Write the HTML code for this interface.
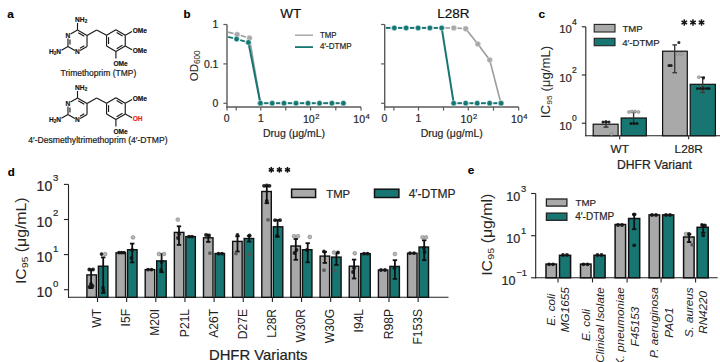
<!DOCTYPE html>
<html><head><meta charset="utf-8"><style>
html,body{margin:0;padding:0;background:#fff;width:720px;height:362px;overflow:hidden}
svg{display:block}
text{font-family:"Liberation Sans", sans-serif}
</style></head><body>
<svg width="720" height="362" viewBox="0 0 720 362">
<rect width="720" height="362" fill="#fff"/>
<text x="7.20" y="17.70" font-size="11.8" text-anchor="start" font-weight="bold" font-style="normal" fill="#000" stroke="#000" stroke-width="0.15" >a</text>
<line x1="77.50" y1="29.90" x2="87.03" y2="35.40" stroke="#1a1a1a" stroke-width="1.15" />
<line x1="78.23" y1="32.63" x2="84.29" y2="36.13" stroke="#1a1a1a" stroke-width="1.15" />
<line x1="87.03" y1="35.40" x2="87.03" y2="46.40" stroke="#1a1a1a" stroke-width="1.15" />
<line x1="87.03" y1="46.40" x2="80.10" y2="50.40" stroke="#1a1a1a" stroke-width="1.15" />
<line x1="84.29" y1="45.67" x2="79.96" y2="48.17" stroke="#1a1a1a" stroke-width="1.15" />
<line x1="74.90" y1="50.40" x2="67.97" y2="46.40" stroke="#1a1a1a" stroke-width="1.15" />
<line x1="67.97" y1="46.40" x2="67.97" y2="38.40" stroke="#1a1a1a" stroke-width="1.15" />
<line x1="69.97" y1="44.40" x2="69.97" y2="39.40" stroke="#1a1a1a" stroke-width="1.15" />
<line x1="70.57" y1="33.90" x2="77.50" y2="29.90" stroke="#1a1a1a" stroke-width="1.15" />
<line x1="77.50" y1="22.90" x2="77.50" y2="29.90" stroke="#1a1a1a" stroke-width="1.15" />
<line x1="67.97" y1="46.40" x2="61.44" y2="50.19" stroke="#1a1a1a" stroke-width="1.15" />
<line x1="87.03" y1="35.40" x2="96.63" y2="29.90" stroke="#1a1a1a" stroke-width="1.15" />
<line x1="96.63" y1="29.90" x2="106.55" y2="35.20" stroke="#1a1a1a" stroke-width="1.15" />
<line x1="106.55" y1="35.20" x2="115.90" y2="29.80" stroke="#1a1a1a" stroke-width="1.15" />
<line x1="115.90" y1="29.80" x2="125.25" y2="35.20" stroke="#1a1a1a" stroke-width="1.15" />
<line x1="116.63" y1="32.53" x2="122.52" y2="35.93" stroke="#1a1a1a" stroke-width="1.15" />
<line x1="125.25" y1="35.20" x2="125.25" y2="46.00" stroke="#1a1a1a" stroke-width="1.15" />
<line x1="125.25" y1="46.00" x2="115.90" y2="51.40" stroke="#1a1a1a" stroke-width="1.15" />
<line x1="122.52" y1="45.27" x2="116.63" y2="48.67" stroke="#1a1a1a" stroke-width="1.15" />
<line x1="115.90" y1="51.40" x2="106.55" y2="46.00" stroke="#1a1a1a" stroke-width="1.15" />
<line x1="106.55" y1="46.00" x2="106.55" y2="35.20" stroke="#1a1a1a" stroke-width="1.15" />
<line x1="108.55" y1="44.00" x2="108.55" y2="37.20" stroke="#1a1a1a" stroke-width="1.15" />
<line x1="125.25" y1="35.20" x2="132.05" y2="31.40" stroke="#1a1a1a" stroke-width="1.15" />
<line x1="125.25" y1="46.00" x2="132.05" y2="49.80" stroke="#1a1a1a" stroke-width="1.15" />
<line x1="115.90" y1="51.40" x2="115.90" y2="58.60" stroke="#1a1a1a" stroke-width="1.15" />
<text x="75.10" y="22.10" font-size="6.6" text-anchor="start" font-weight="bold" font-style="normal" fill="#111" stroke="#111" stroke-width="0.15" >NH<tspan font-size="4.6" dy="1.2">2</tspan></text>
<text x="67.97" y="37.80" font-size="6.6" text-anchor="middle" font-weight="bold" font-style="normal" fill="#111" stroke="#111" stroke-width="0.15" >N</text>
<text x="77.50" y="54.30" font-size="6.6" text-anchor="middle" font-weight="bold" font-style="normal" fill="#111" stroke="#111" stroke-width="0.15" >N</text>
<text x="61.07" y="53.80" font-size="6.6" text-anchor="end" font-weight="bold" font-style="normal" fill="#111" stroke="#111" stroke-width="0.15" >H<tspan font-size="4.6" dy="1.2">2</tspan><tspan dy="-1.2">N</tspan></text>
<text x="132.65" y="33.00" font-size="6.6" text-anchor="start" font-weight="bold" font-style="normal" fill="#111" stroke="#111" stroke-width="0.15" >OMe</text>
<text x="132.65" y="53.40" font-size="6.6" text-anchor="start" font-weight="bold" font-style="normal" fill="#111" stroke="#111" stroke-width="0.15" >OMe</text>
<text x="113.40" y="65.90" font-size="6.6" text-anchor="start" font-weight="bold" font-style="normal" fill="#111" stroke="#111" stroke-width="0.15" >OMe</text>
<text x="98.40" y="75.60" font-size="8.5" text-anchor="middle" font-weight="normal" font-style="normal" fill="#1a1a1a" stroke="#1a1a1a" stroke-width="0.2" >Trimethoprim (TMP)</text>
<line x1="77.50" y1="97.90" x2="87.03" y2="103.40" stroke="#1a1a1a" stroke-width="1.15" />
<line x1="78.23" y1="100.63" x2="84.29" y2="104.13" stroke="#1a1a1a" stroke-width="1.15" />
<line x1="87.03" y1="103.40" x2="87.03" y2="114.40" stroke="#1a1a1a" stroke-width="1.15" />
<line x1="87.03" y1="114.40" x2="80.10" y2="118.40" stroke="#1a1a1a" stroke-width="1.15" />
<line x1="84.29" y1="113.67" x2="79.96" y2="116.17" stroke="#1a1a1a" stroke-width="1.15" />
<line x1="74.90" y1="118.40" x2="67.97" y2="114.40" stroke="#1a1a1a" stroke-width="1.15" />
<line x1="67.97" y1="114.40" x2="67.97" y2="106.40" stroke="#1a1a1a" stroke-width="1.15" />
<line x1="69.97" y1="112.40" x2="69.97" y2="107.40" stroke="#1a1a1a" stroke-width="1.15" />
<line x1="70.57" y1="101.90" x2="77.50" y2="97.90" stroke="#1a1a1a" stroke-width="1.15" />
<line x1="77.50" y1="90.90" x2="77.50" y2="97.90" stroke="#1a1a1a" stroke-width="1.15" />
<line x1="67.97" y1="114.40" x2="61.44" y2="118.19" stroke="#1a1a1a" stroke-width="1.15" />
<line x1="87.03" y1="103.40" x2="96.63" y2="97.90" stroke="#1a1a1a" stroke-width="1.15" />
<line x1="96.63" y1="97.90" x2="106.55" y2="103.20" stroke="#1a1a1a" stroke-width="1.15" />
<line x1="106.55" y1="103.20" x2="115.90" y2="97.80" stroke="#1a1a1a" stroke-width="1.15" />
<line x1="115.90" y1="97.80" x2="125.25" y2="103.20" stroke="#1a1a1a" stroke-width="1.15" />
<line x1="116.63" y1="100.53" x2="122.52" y2="103.93" stroke="#1a1a1a" stroke-width="1.15" />
<line x1="125.25" y1="103.20" x2="125.25" y2="114.00" stroke="#1a1a1a" stroke-width="1.15" />
<line x1="125.25" y1="114.00" x2="115.90" y2="119.40" stroke="#1a1a1a" stroke-width="1.15" />
<line x1="122.52" y1="113.27" x2="116.63" y2="116.67" stroke="#1a1a1a" stroke-width="1.15" />
<line x1="115.90" y1="119.40" x2="106.55" y2="114.00" stroke="#1a1a1a" stroke-width="1.15" />
<line x1="106.55" y1="114.00" x2="106.55" y2="103.20" stroke="#1a1a1a" stroke-width="1.15" />
<line x1="108.55" y1="112.00" x2="108.55" y2="105.20" stroke="#1a1a1a" stroke-width="1.15" />
<line x1="125.25" y1="103.20" x2="132.05" y2="99.40" stroke="#1a1a1a" stroke-width="1.15" />
<line x1="125.25" y1="114.00" x2="132.05" y2="117.80" stroke="#1a1a1a" stroke-width="1.15" />
<line x1="115.90" y1="119.40" x2="115.90" y2="126.60" stroke="#1a1a1a" stroke-width="1.15" />
<text x="75.10" y="90.10" font-size="6.6" text-anchor="start" font-weight="bold" font-style="normal" fill="#111" stroke="#111" stroke-width="0.15" >NH<tspan font-size="4.6" dy="1.2">2</tspan></text>
<text x="67.97" y="105.80" font-size="6.6" text-anchor="middle" font-weight="bold" font-style="normal" fill="#111" stroke="#111" stroke-width="0.15" >N</text>
<text x="77.50" y="122.30" font-size="6.6" text-anchor="middle" font-weight="bold" font-style="normal" fill="#111" stroke="#111" stroke-width="0.15" >N</text>
<text x="61.07" y="121.80" font-size="6.6" text-anchor="end" font-weight="bold" font-style="normal" fill="#111" stroke="#111" stroke-width="0.15" >H<tspan font-size="4.6" dy="1.2">2</tspan><tspan dy="-1.2">N</tspan></text>
<text x="132.65" y="101.00" font-size="6.6" text-anchor="start" font-weight="bold" font-style="normal" fill="#111" stroke="#111" stroke-width="0.15" >OMe</text>
<text x="132.65" y="121.40" font-size="6.6" text-anchor="start" font-weight="bold" font-style="normal" fill="#e8231e" stroke="#e8231e" stroke-width="0.15" >OH</text>
<text x="113.40" y="133.90" font-size="6.6" text-anchor="start" font-weight="bold" font-style="normal" fill="#111" stroke="#111" stroke-width="0.15" >OMe</text>
<text x="97.90" y="143.30" font-size="8.6" text-anchor="middle" font-weight="normal" font-style="normal" fill="#1a1a1a" stroke="#1a1a1a" stroke-width="0.2" >4′-Desmethyltrimethoprim (4′-DTMP)</text>
<text x="183.60" y="18.00" font-size="11.5" text-anchor="start" font-weight="bold" font-style="normal" fill="#000" stroke="#000" stroke-width="0.15" >b</text>
<line x1="227.00" y1="24.50" x2="227.00" y2="107.60" stroke="#5a5a5a" stroke-width="1.4" />
<line x1="226.40" y1="107.00" x2="361.00" y2="107.00" stroke="#5a5a5a" stroke-width="1.4" />
<line x1="223.40" y1="24.50" x2="227.00" y2="24.50" stroke="#5a5a5a" stroke-width="1.2" />
<text x="218.40" y="28.20" font-size="10.4" text-anchor="end" font-weight="normal" font-style="normal" fill="#262626" stroke="#262626" stroke-width="0.2" >1</text>
<line x1="223.40" y1="63.90" x2="227.00" y2="63.90" stroke="#5a5a5a" stroke-width="1.2" />
<text x="218.40" y="67.60" font-size="10.4" text-anchor="end" font-weight="normal" font-style="normal" fill="#262626" stroke="#262626" stroke-width="0.2" >0.1</text>
<line x1="223.40" y1="103.30" x2="227.00" y2="103.30" stroke="#5a5a5a" stroke-width="1.2" />
<text x="218.40" y="107.00" font-size="10.4" text-anchor="end" font-weight="normal" font-style="normal" fill="#262626" stroke="#262626" stroke-width="0.2" >0</text>
<line x1="227.00" y1="107.00" x2="227.00" y2="110.60" stroke="#5a5a5a" stroke-width="1.2" />
<line x1="236.20" y1="107.00" x2="236.20" y2="110.60" stroke="#5a5a5a" stroke-width="1.2" />
<line x1="260.80" y1="107.00" x2="260.80" y2="110.60" stroke="#5a5a5a" stroke-width="1.2" />
<line x1="285.80" y1="107.00" x2="285.80" y2="110.60" stroke="#5a5a5a" stroke-width="1.2" />
<line x1="310.60" y1="107.00" x2="310.60" y2="110.60" stroke="#5a5a5a" stroke-width="1.2" />
<line x1="335.80" y1="107.00" x2="335.80" y2="110.60" stroke="#5a5a5a" stroke-width="1.2" />
<line x1="361.00" y1="107.00" x2="361.00" y2="110.60" stroke="#5a5a5a" stroke-width="1.2" />
<text x="226.70" y="121.90" font-size="10.4" text-anchor="middle" font-weight="normal" font-style="normal" fill="#262626" stroke="#262626" stroke-width="0.2" >0</text>
<text x="260.80" y="121.90" font-size="10.4" text-anchor="middle" font-weight="normal" font-style="normal" fill="#262626" stroke="#262626" stroke-width="0.2" >1</text>
<text x="308.80" y="122.50" font-size="10.6" text-anchor="middle" font-weight="normal" font-style="normal" fill="#262626" stroke="#262626" stroke-width="0.2" >10</text>
<text x="315.20" y="119.20" font-size="7.6" text-anchor="start" font-weight="normal" font-style="normal" fill="#262626" stroke="#262626" stroke-width="0.2" >2</text>
<text x="359.20" y="122.50" font-size="10.6" text-anchor="middle" font-weight="normal" font-style="normal" fill="#262626" stroke="#262626" stroke-width="0.2" >10</text>
<text x="365.60" y="119.20" font-size="7.6" text-anchor="start" font-weight="normal" font-style="normal" fill="#262626" stroke="#262626" stroke-width="0.2" >4</text>
<text x="294.00" y="136.60" font-size="10.5" text-anchor="middle" font-weight="normal" font-style="normal" fill="#262626" stroke="#262626" stroke-width="0.2" >Drug (μg/mL)</text>
<text x="290.80" y="17.60" font-size="13.5" text-anchor="middle" font-weight="normal" font-style="normal" fill="#111" stroke="#111" stroke-width="0.2" >WT</text>
<text transform="translate(198.2,65.8) rotate(-90)" font-size="11.5" text-anchor="middle" fill="#262626">OD<tspan font-size="8.2" dy="1.8">600</tspan></text>
<line x1="295.00" y1="35.20" x2="313.00" y2="35.20" stroke="#a9a9a9" stroke-width="1.5" />
<line x1="295.00" y1="47.10" x2="313.00" y2="47.10" stroke="#177672" stroke-width="1.8" />
<text x="320.00" y="38.00" font-size="8.4" text-anchor="start" font-weight="normal" font-style="normal" fill="#262626" stroke="#262626" stroke-width="0.2" textLength="16.6" lengthAdjust="spacingAndGlyphs">TMP</text>
<text x="320.00" y="49.20" font-size="8.4" text-anchor="start" font-weight="normal" font-style="normal" fill="#262626" stroke="#262626" stroke-width="0.2" textLength="31.6" lengthAdjust="spacingAndGlyphs">4′-DTMP</text>
<line x1="228.16" y1="32.11" x2="233.48" y2="33.53" stroke="#9c9c9c" stroke-width="1.6" />
<line x1="240.70" y1="35.55" x2="245.90" y2="37.05" stroke="#9c9c9c" stroke-width="1.6" />
<polyline points="249.50,38.10 260.40,103.20" fill="none" stroke="#9c9c9c" stroke-width="1.6"  stroke-linejoin="round"/>
<circle cx="237.10" cy="34.50" r="2.75" fill="#a9a9a9" stroke="#e8e8e8" stroke-width="0.4" opacity="1"/>
<circle cx="249.50" cy="38.10" r="2.75" fill="#a9a9a9" stroke="#e8e8e8" stroke-width="0.4" opacity="1"/>
<circle cx="260.40" cy="103.20" r="2.75" fill="#a9a9a9" stroke="#e8e8e8" stroke-width="0.4" opacity="1"/>
<line x1="228.16" y1="36.90" x2="232.97" y2="38.15" stroke="#177672" stroke-width="2.0" />
<line x1="240.21" y1="40.11" x2="244.79" y2="41.39" stroke="#177672" stroke-width="2.0" />
<polyline points="248.40,42.40 260.40,103.20" fill="none" stroke="#177672" stroke-width="2.0"  stroke-linejoin="round"/>
<line x1="264.15" y1="103.20" x2="268.45" y2="103.20" stroke="#177672" stroke-width="2.0" />
<line x1="275.95" y1="103.20" x2="280.25" y2="103.20" stroke="#177672" stroke-width="2.0" />
<line x1="287.75" y1="103.20" x2="292.25" y2="103.20" stroke="#177672" stroke-width="2.0" />
<line x1="299.75" y1="103.20" x2="304.25" y2="103.20" stroke="#177672" stroke-width="2.0" />
<line x1="311.75" y1="103.20" x2="315.75" y2="103.20" stroke="#177672" stroke-width="2.0" />
<line x1="323.25" y1="103.20" x2="328.15" y2="103.20" stroke="#177672" stroke-width="2.0" />
<line x1="335.65" y1="103.20" x2="339.65" y2="103.20" stroke="#177672" stroke-width="2.0" />
<circle cx="236.60" cy="39.10" r="2.75" fill="#177672" stroke="#d4f2ee" stroke-width="0.6" opacity="1"/>
<circle cx="248.40" cy="42.40" r="2.75" fill="#177672" stroke="#d4f2ee" stroke-width="0.6" opacity="1"/>
<circle cx="260.40" cy="103.20" r="2.75" fill="#177672" stroke="#d4f2ee" stroke-width="0.6" opacity="1"/>
<circle cx="272.20" cy="103.20" r="2.75" fill="#177672" stroke="#d4f2ee" stroke-width="0.6" opacity="1"/>
<circle cx="284.00" cy="103.20" r="2.75" fill="#177672" stroke="#d4f2ee" stroke-width="0.6" opacity="1"/>
<circle cx="296.00" cy="103.20" r="2.75" fill="#177672" stroke="#d4f2ee" stroke-width="0.6" opacity="1"/>
<circle cx="308.00" cy="103.20" r="2.75" fill="#177672" stroke="#d4f2ee" stroke-width="0.6" opacity="1"/>
<circle cx="319.50" cy="103.20" r="2.75" fill="#177672" stroke="#d4f2ee" stroke-width="0.6" opacity="1"/>
<circle cx="331.90" cy="103.20" r="2.75" fill="#177672" stroke="#d4f2ee" stroke-width="0.6" opacity="1"/>
<circle cx="343.40" cy="103.20" r="2.75" fill="#177672" stroke="#d4f2ee" stroke-width="0.6" opacity="1"/>
<line x1="384.70" y1="24.50" x2="384.70" y2="107.60" stroke="#5a5a5a" stroke-width="1.4" />
<line x1="384.10" y1="107.00" x2="518.70" y2="107.00" stroke="#5a5a5a" stroke-width="1.4" />
<line x1="381.10" y1="24.50" x2="384.70" y2="24.50" stroke="#5a5a5a" stroke-width="1.2" />
<line x1="381.10" y1="63.90" x2="384.70" y2="63.90" stroke="#5a5a5a" stroke-width="1.2" />
<line x1="381.10" y1="103.30" x2="384.70" y2="103.30" stroke="#5a5a5a" stroke-width="1.2" />
<line x1="384.70" y1="107.00" x2="384.70" y2="110.60" stroke="#5a5a5a" stroke-width="1.2" />
<line x1="393.90" y1="107.00" x2="393.90" y2="110.60" stroke="#5a5a5a" stroke-width="1.2" />
<line x1="418.50" y1="107.00" x2="418.50" y2="110.60" stroke="#5a5a5a" stroke-width="1.2" />
<line x1="443.50" y1="107.00" x2="443.50" y2="110.60" stroke="#5a5a5a" stroke-width="1.2" />
<line x1="468.30" y1="107.00" x2="468.30" y2="110.60" stroke="#5a5a5a" stroke-width="1.2" />
<line x1="493.50" y1="107.00" x2="493.50" y2="110.60" stroke="#5a5a5a" stroke-width="1.2" />
<line x1="518.70" y1="107.00" x2="518.70" y2="110.60" stroke="#5a5a5a" stroke-width="1.2" />
<text x="384.40" y="121.90" font-size="10.4" text-anchor="middle" font-weight="normal" font-style="normal" fill="#262626" stroke="#262626" stroke-width="0.2" >0</text>
<text x="418.50" y="121.90" font-size="10.4" text-anchor="middle" font-weight="normal" font-style="normal" fill="#262626" stroke="#262626" stroke-width="0.2" >1</text>
<text x="466.50" y="122.50" font-size="10.6" text-anchor="middle" font-weight="normal" font-style="normal" fill="#262626" stroke="#262626" stroke-width="0.2" >10</text>
<text x="472.90" y="119.20" font-size="7.6" text-anchor="start" font-weight="normal" font-style="normal" fill="#262626" stroke="#262626" stroke-width="0.2" >2</text>
<text x="516.90" y="122.50" font-size="10.6" text-anchor="middle" font-weight="normal" font-style="normal" fill="#262626" stroke="#262626" stroke-width="0.2" >10</text>
<text x="523.30" y="119.20" font-size="7.6" text-anchor="start" font-weight="normal" font-style="normal" fill="#262626" stroke="#262626" stroke-width="0.2" >4</text>
<text x="451.70" y="136.60" font-size="10.5" text-anchor="middle" font-weight="normal" font-style="normal" fill="#262626" stroke="#262626" stroke-width="0.2" >Drug (μg/mL)</text>
<text x="453.30" y="17.60" font-size="13.5" text-anchor="middle" font-weight="normal" font-style="normal" fill="#111" stroke="#111" stroke-width="0.2" >L28R</text>
<line x1="445.35" y1="27.90" x2="450.05" y2="27.90" stroke="#9c9c9c" stroke-width="1.6" />
<line x1="457.54" y1="28.15" x2="461.96" y2="28.45" stroke="#9c9c9c" stroke-width="1.6" />
<polyline points="465.70,28.70 477.80,44.10" fill="none" stroke="#9c9c9c" stroke-width="1.6"  stroke-linejoin="round"/>
<polyline points="477.80,44.10 489.70,59.90" fill="none" stroke="#9c9c9c" stroke-width="1.6"  stroke-linejoin="round"/>
<polyline points="489.70,59.90 500.90,103.20" fill="none" stroke="#9c9c9c" stroke-width="1.6"  stroke-linejoin="round"/>
<circle cx="453.80" cy="27.90" r="2.75" fill="#a9a9a9" stroke="#e8e8e8" stroke-width="0.4" opacity="1"/>
<circle cx="465.70" cy="28.70" r="2.75" fill="#a9a9a9" stroke="#e8e8e8" stroke-width="0.4" opacity="1"/>
<circle cx="477.80" cy="44.10" r="2.75" fill="#a9a9a9" stroke="#e8e8e8" stroke-width="0.4" opacity="1"/>
<circle cx="489.70" cy="59.90" r="2.75" fill="#a9a9a9" stroke="#e8e8e8" stroke-width="0.4" opacity="1"/>
<circle cx="500.90" cy="103.20" r="2.75" fill="#a9a9a9" stroke="#e8e8e8" stroke-width="0.4" opacity="1"/>
<line x1="385.90" y1="27.90" x2="390.55" y2="27.90" stroke="#177672" stroke-width="2.0" />
<line x1="398.05" y1="27.90" x2="402.35" y2="27.90" stroke="#177672" stroke-width="2.0" />
<line x1="409.85" y1="27.90" x2="414.35" y2="27.90" stroke="#177672" stroke-width="2.0" />
<line x1="421.85" y1="27.90" x2="426.15" y2="27.90" stroke="#177672" stroke-width="2.0" />
<line x1="433.65" y1="27.90" x2="437.95" y2="27.90" stroke="#177672" stroke-width="2.0" />
<polyline points="441.70,27.90 453.70,103.20" fill="none" stroke="#177672" stroke-width="2.0"  stroke-linejoin="round"/>
<line x1="457.45" y1="103.20" x2="461.95" y2="103.20" stroke="#177672" stroke-width="2.0" />
<line x1="469.45" y1="103.20" x2="473.45" y2="103.20" stroke="#177672" stroke-width="2.0" />
<line x1="480.95" y1="103.20" x2="485.85" y2="103.20" stroke="#177672" stroke-width="2.0" />
<line x1="493.35" y1="103.20" x2="497.35" y2="103.20" stroke="#177672" stroke-width="2.0" />
<circle cx="394.30" cy="27.90" r="2.75" fill="#177672" stroke="#d4f2ee" stroke-width="0.6" opacity="1"/>
<circle cx="406.10" cy="27.90" r="2.75" fill="#177672" stroke="#d4f2ee" stroke-width="0.6" opacity="1"/>
<circle cx="418.10" cy="27.90" r="2.75" fill="#177672" stroke="#d4f2ee" stroke-width="0.6" opacity="1"/>
<circle cx="429.90" cy="27.90" r="2.75" fill="#177672" stroke="#d4f2ee" stroke-width="0.6" opacity="1"/>
<circle cx="441.70" cy="27.90" r="2.75" fill="#177672" stroke="#d4f2ee" stroke-width="0.6" opacity="1"/>
<circle cx="453.70" cy="103.20" r="2.75" fill="#177672" stroke="#d4f2ee" stroke-width="0.6" opacity="1"/>
<circle cx="465.70" cy="103.20" r="2.75" fill="#177672" stroke="#d4f2ee" stroke-width="0.6" opacity="1"/>
<circle cx="477.20" cy="103.20" r="2.75" fill="#177672" stroke="#d4f2ee" stroke-width="0.6" opacity="1"/>
<circle cx="489.60" cy="103.20" r="2.75" fill="#177672" stroke="#d4f2ee" stroke-width="0.6" opacity="1"/>
<circle cx="501.10" cy="103.20" r="2.75" fill="#177672" stroke="#d4f2ee" stroke-width="0.6" opacity="1"/>
<text x="538.60" y="18.00" font-size="11.8" text-anchor="start" font-weight="bold" font-style="normal" fill="#000" stroke="#000" stroke-width="0.15" >c</text>
<line x1="585.80" y1="26.80" x2="585.80" y2="136.30" stroke="#222" stroke-width="1.1" />
<line x1="585.30" y1="135.80" x2="720.00" y2="135.80" stroke="#222" stroke-width="1.1" />
<line x1="581.80" y1="26.80" x2="585.80" y2="26.80" stroke="#222" stroke-width="1.1" />
<text x="571.80" y="33.30" font-size="11.4" text-anchor="end" font-weight="normal" font-style="normal" fill="#262626" stroke="#262626" stroke-width="0.2" >10</text>
<text x="572.10" y="25.00" font-size="8.6" text-anchor="start" font-weight="normal" font-style="normal" fill="#262626" stroke="#262626" stroke-width="0.2" >4</text>
<line x1="581.80" y1="75.00" x2="585.80" y2="75.00" stroke="#222" stroke-width="1.1" />
<text x="571.80" y="81.50" font-size="11.4" text-anchor="end" font-weight="normal" font-style="normal" fill="#262626" stroke="#262626" stroke-width="0.2" >10</text>
<text x="572.10" y="73.20" font-size="8.6" text-anchor="start" font-weight="normal" font-style="normal" fill="#262626" stroke="#262626" stroke-width="0.2" >2</text>
<line x1="581.80" y1="123.20" x2="585.80" y2="123.20" stroke="#222" stroke-width="1.1" />
<text x="571.80" y="129.70" font-size="11.4" text-anchor="end" font-weight="normal" font-style="normal" fill="#262626" stroke="#262626" stroke-width="0.2" >10</text>
<text x="572.10" y="121.40" font-size="8.6" text-anchor="start" font-weight="normal" font-style="normal" fill="#262626" stroke="#262626" stroke-width="0.2" >0</text>
<rect x="593.20" y="124.20" width="24.90" height="11.60" fill="#a9a9a9" stroke="#111" stroke-width="1.2"/>
<rect x="621.20" y="118.00" width="25.10" height="17.80" fill="#177672" stroke="#111" stroke-width="1.2"/>
<rect x="662.60" y="51.20" width="24.70" height="84.60" fill="#a9a9a9" stroke="#111" stroke-width="1.2"/>
<rect x="690.20" y="84.30" width="25.20" height="51.50" fill="#177672" stroke="#111" stroke-width="1.2"/>
<line x1="606.00" y1="122.10" x2="606.00" y2="127.10" stroke="#333" stroke-width="1.4" />
<line x1="603.50" y1="122.10" x2="608.50" y2="122.10" stroke="#333" stroke-width="1.4" />
<line x1="603.50" y1="127.10" x2="608.50" y2="127.10" stroke="#333" stroke-width="1.4" />
<line x1="633.60" y1="112.20" x2="633.60" y2="123.50" stroke="#333" stroke-width="1.4" />
<line x1="631.10" y1="112.20" x2="636.10" y2="112.20" stroke="#333" stroke-width="1.4" />
<line x1="631.10" y1="123.50" x2="636.10" y2="123.50" stroke="#333" stroke-width="1.4" />
<line x1="674.70" y1="44.90" x2="674.70" y2="72.70" stroke="#3a3a3a" stroke-width="1.4" />
<line x1="672.40" y1="44.90" x2="677.00" y2="44.90" stroke="#3a3a3a" stroke-width="1.4" />
<line x1="672.40" y1="72.70" x2="677.00" y2="72.70" stroke="#3a3a3a" stroke-width="1.4" />
<line x1="702.70" y1="77.20" x2="702.70" y2="92.50" stroke="#3a3a3a" stroke-width="1.4" />
<line x1="700.40" y1="77.20" x2="705.00" y2="77.20" stroke="#3a3a3a" stroke-width="1.4" />
<line x1="700.40" y1="92.50" x2="705.00" y2="92.50" stroke="#3a3a3a" stroke-width="1.4" />
<circle cx="678.90" cy="42.50" r="1.5" fill="#111" stroke="none" stroke-width="0" opacity="0.9"/>
<circle cx="677.40" cy="53.90" r="1.5" fill="#b4b4b4" stroke="#7a7a7a" stroke-width="0.6" opacity="0.95"/>
<circle cx="681.50" cy="53.90" r="1.5" fill="#b4b4b4" stroke="#7a7a7a" stroke-width="0.6" opacity="0.95"/>
<circle cx="669.00" cy="65.50" r="1.5" fill="#111" stroke="none" stroke-width="0" opacity="0.9"/>
<circle cx="671.10" cy="65.50" r="1.5" fill="#111" stroke="none" stroke-width="0" opacity="0.9"/>
<circle cx="698.80" cy="77.20" r="1.5" fill="#b4b4b4" stroke="#7a7a7a" stroke-width="0.6" opacity="0.95"/>
<circle cx="703.50" cy="77.90" r="1.5" fill="#111" stroke="none" stroke-width="0" opacity="0.9"/>
<circle cx="697.50" cy="88.50" r="1.5" fill="#111" stroke="none" stroke-width="0" opacity="0.9"/>
<circle cx="700.50" cy="88.50" r="1.5" fill="#111" stroke="none" stroke-width="0" opacity="0.9"/>
<circle cx="703.50" cy="88.50" r="1.5" fill="#111" stroke="none" stroke-width="0" opacity="0.9"/>
<circle cx="706.50" cy="88.50" r="1.5" fill="#111" stroke="none" stroke-width="0" opacity="0.9"/>
<circle cx="709.00" cy="88.50" r="1.5" fill="#111" stroke="none" stroke-width="0" opacity="0.9"/>
<circle cx="603.00" cy="122.10" r="1.5" fill="#111" stroke="none" stroke-width="0" opacity="0.9"/>
<circle cx="606.00" cy="121.60" r="1.5" fill="#111" stroke="none" stroke-width="0" opacity="0.9"/>
<circle cx="609.00" cy="122.10" r="1.5" fill="#111" stroke="none" stroke-width="0" opacity="0.9"/>
<circle cx="611.50" cy="134.00" r="1.5" fill="#b4b4b4" stroke="#7a7a7a" stroke-width="0.6" opacity="0.95"/>
<circle cx="629.00" cy="112.00" r="1.5" fill="#b4b4b4" stroke="#7a7a7a" stroke-width="0.6" opacity="0.95"/>
<circle cx="632.00" cy="111.60" r="1.5" fill="#b4b4b4" stroke="#7a7a7a" stroke-width="0.6" opacity="0.95"/>
<circle cx="635.00" cy="111.60" r="1.5" fill="#b4b4b4" stroke="#7a7a7a" stroke-width="0.6" opacity="0.95"/>
<circle cx="638.50" cy="112.00" r="1.5" fill="#b4b4b4" stroke="#7a7a7a" stroke-width="0.6" opacity="0.95"/>
<circle cx="631.00" cy="123.50" r="1.5" fill="#111" stroke="none" stroke-width="0" opacity="0.9"/>
<circle cx="634.00" cy="123.50" r="1.5" fill="#111" stroke="none" stroke-width="0" opacity="0.9"/>
<circle cx="637.00" cy="123.50" r="1.5" fill="#111" stroke="none" stroke-width="0" opacity="0.9"/>
<line x1="619.70" y1="135.80" x2="619.70" y2="139.30" stroke="#222" stroke-width="1.1" />
<line x1="688.70" y1="135.80" x2="688.70" y2="139.30" stroke="#222" stroke-width="1.1" />
<text x="619.70" y="153.00" font-size="11.8" text-anchor="middle" font-weight="normal" font-style="normal" fill="#222" stroke="#222" stroke-width="0.2" >WT</text>
<text x="688.70" y="153.00" font-size="11.8" text-anchor="middle" font-weight="normal" font-style="normal" fill="#222" stroke="#222" stroke-width="0.2" >L28R</text>
<text x="654.50" y="169.20" font-size="12.2" text-anchor="middle" font-weight="normal" font-style="normal" fill="#222" stroke="#222" stroke-width="0.2" >DHFR Variant</text>
<line x1="684.30" y1="19.30" x2="684.30" y2="25.70" stroke="#111" stroke-width="1.5" />
<line x1="681.53" y1="20.90" x2="687.07" y2="24.10" stroke="#111" stroke-width="1.5" />
<line x1="681.53" y1="24.10" x2="687.07" y2="20.90" stroke="#111" stroke-width="1.5" />
<line x1="693.00" y1="19.30" x2="693.00" y2="25.70" stroke="#111" stroke-width="1.5" />
<line x1="690.23" y1="20.90" x2="695.77" y2="24.10" stroke="#111" stroke-width="1.5" />
<line x1="690.23" y1="24.10" x2="695.77" y2="20.90" stroke="#111" stroke-width="1.5" />
<line x1="701.50" y1="19.30" x2="701.50" y2="25.70" stroke="#111" stroke-width="1.5" />
<line x1="698.73" y1="20.90" x2="704.27" y2="24.10" stroke="#111" stroke-width="1.5" />
<line x1="698.73" y1="24.10" x2="704.27" y2="20.90" stroke="#111" stroke-width="1.5" />
<rect x="594.20" y="24.40" width="20.80" height="7.60" fill="#a9a9a9" stroke="#222" stroke-width="1.1"/>
<rect x="594.20" y="38.30" width="20.80" height="7.40" fill="#177672" stroke="#222" stroke-width="1.1"/>
<text x="622.50" y="31.70" font-size="9.6" text-anchor="start" font-weight="normal" font-style="normal" fill="#262626" stroke="#262626" stroke-width="0.2" >TMP</text>
<text x="622.20" y="45.60" font-size="9.6" text-anchor="start" font-weight="normal" font-style="normal" fill="#262626" stroke="#262626" stroke-width="0.2" >4′-DTMP</text>
<g transform="translate(550.20,82.00) rotate(-90) scale(1.065,1)" fill="#262626">
<text x="-33.96" y="0" font-size="12.4">IC</text>
<text transform="translate(-21.26,1.60) scale(1.069,1)" x="0" y="0" font-size="7.4">95</text>
<text x="-12.46" y="0" font-size="12.4"> (μg/mL)</text>
</g>
<text x="7.80" y="175.80" font-size="11.5" text-anchor="start" font-weight="bold" font-style="normal" fill="#000" stroke="#000" stroke-width="0.15" >d</text>
<line x1="68.50" y1="184.40" x2="68.50" y2="297.80" stroke="#222" stroke-width="1.1" />
<line x1="68.00" y1="297.30" x2="448.50" y2="297.30" stroke="#222" stroke-width="1.1" />
<line x1="63.90" y1="184.40" x2="68.50" y2="184.40" stroke="#222" stroke-width="1.1" />
<text x="52.20" y="191.40" font-size="14.0" text-anchor="end" font-weight="normal" font-style="normal" fill="#262626" stroke="#262626" stroke-width="0.2" >10</text>
<text x="52.90" y="181.30" font-size="9.6" text-anchor="start" font-weight="normal" font-style="normal" fill="#262626" stroke="#262626" stroke-width="0.2" >3</text>
<line x1="63.90" y1="219.50" x2="68.50" y2="219.50" stroke="#222" stroke-width="1.1" />
<text x="52.20" y="226.50" font-size="14.0" text-anchor="end" font-weight="normal" font-style="normal" fill="#262626" stroke="#262626" stroke-width="0.2" >10</text>
<text x="52.90" y="216.40" font-size="9.6" text-anchor="start" font-weight="normal" font-style="normal" fill="#262626" stroke="#262626" stroke-width="0.2" >2</text>
<line x1="63.90" y1="254.60" x2="68.50" y2="254.60" stroke="#222" stroke-width="1.1" />
<text x="52.20" y="261.60" font-size="14.0" text-anchor="end" font-weight="normal" font-style="normal" fill="#262626" stroke="#262626" stroke-width="0.2" >10</text>
<text x="52.90" y="251.50" font-size="9.6" text-anchor="start" font-weight="normal" font-style="normal" fill="#262626" stroke="#262626" stroke-width="0.2" >1</text>
<line x1="63.90" y1="289.70" x2="68.50" y2="289.70" stroke="#222" stroke-width="1.1" />
<text x="52.20" y="296.70" font-size="14.0" text-anchor="end" font-weight="normal" font-style="normal" fill="#262626" stroke="#262626" stroke-width="0.2" >10</text>
<text x="52.90" y="286.60" font-size="9.6" text-anchor="start" font-weight="normal" font-style="normal" fill="#262626" stroke="#262626" stroke-width="0.2" >0</text>
<rect x="86.90" y="274.90" width="9.50" height="22.40" fill="#a9a9a9" stroke="#111" stroke-width="1.4"/>
<rect x="98.40" y="266.20" width="9.50" height="31.10" fill="#177672" stroke="#111" stroke-width="1.4"/>
<line x1="97.50" y1="297.30" x2="97.50" y2="302.10" stroke="#222" stroke-width="1.1" />
<text transform="translate(101.10,308.9) rotate(-90)" font-size="12.1" text-anchor="end" fill="#222">WT</text>
<rect x="116.05" y="252.80" width="9.50" height="44.50" fill="#a9a9a9" stroke="#111" stroke-width="1.4"/>
<rect x="127.55" y="249.70" width="9.50" height="47.60" fill="#177672" stroke="#111" stroke-width="1.4"/>
<line x1="126.65" y1="297.30" x2="126.65" y2="302.10" stroke="#222" stroke-width="1.1" />
<text transform="translate(130.25,308.9) rotate(-90)" font-size="12.1" text-anchor="end" fill="#222">I5F</text>
<rect x="145.20" y="269.60" width="9.50" height="27.70" fill="#a9a9a9" stroke="#111" stroke-width="1.4"/>
<rect x="156.70" y="260.90" width="9.50" height="36.40" fill="#177672" stroke="#111" stroke-width="1.4"/>
<line x1="155.80" y1="297.30" x2="155.80" y2="302.10" stroke="#222" stroke-width="1.1" />
<text transform="translate(159.40,308.9) rotate(-90)" font-size="12.1" text-anchor="end" fill="#222">M20I</text>
<rect x="174.35" y="232.40" width="9.50" height="64.90" fill="#a9a9a9" stroke="#111" stroke-width="1.4"/>
<rect x="185.85" y="236.60" width="9.50" height="60.70" fill="#177672" stroke="#111" stroke-width="1.4"/>
<line x1="184.95" y1="297.30" x2="184.95" y2="302.10" stroke="#222" stroke-width="1.1" />
<text transform="translate(188.55,308.9) rotate(-90)" font-size="12.1" text-anchor="end" fill="#222">P21L</text>
<rect x="203.50" y="237.80" width="9.50" height="59.50" fill="#a9a9a9" stroke="#111" stroke-width="1.4"/>
<rect x="215.00" y="253.50" width="9.50" height="43.80" fill="#177672" stroke="#111" stroke-width="1.4"/>
<line x1="214.10" y1="297.30" x2="214.10" y2="302.10" stroke="#222" stroke-width="1.1" />
<text transform="translate(217.70,308.9) rotate(-90)" font-size="12.1" text-anchor="end" fill="#222">A26T</text>
<rect x="232.65" y="241.40" width="9.50" height="55.90" fill="#a9a9a9" stroke="#111" stroke-width="1.4"/>
<rect x="244.15" y="238.50" width="9.50" height="58.80" fill="#177672" stroke="#111" stroke-width="1.4"/>
<line x1="243.25" y1="297.30" x2="243.25" y2="302.10" stroke="#222" stroke-width="1.1" />
<text transform="translate(246.85,308.9) rotate(-90)" font-size="12.1" text-anchor="end" fill="#222">D27E</text>
<rect x="261.80" y="191.50" width="9.50" height="105.80" fill="#a9a9a9" stroke="#111" stroke-width="1.4"/>
<rect x="273.30" y="226.80" width="9.50" height="70.50" fill="#177672" stroke="#111" stroke-width="1.4"/>
<line x1="272.40" y1="297.30" x2="272.40" y2="302.10" stroke="#222" stroke-width="1.1" />
<text transform="translate(276.00,308.9) rotate(-90)" font-size="12.1" text-anchor="end" fill="#222">L28R</text>
<rect x="290.95" y="246.00" width="9.50" height="51.30" fill="#a9a9a9" stroke="#111" stroke-width="1.4"/>
<rect x="302.45" y="249.70" width="9.50" height="47.60" fill="#177672" stroke="#111" stroke-width="1.4"/>
<line x1="301.55" y1="297.30" x2="301.55" y2="302.10" stroke="#222" stroke-width="1.1" />
<text transform="translate(305.15,308.9) rotate(-90)" font-size="12.1" text-anchor="end" fill="#222">W30R</text>
<rect x="320.10" y="256.10" width="9.50" height="41.20" fill="#a9a9a9" stroke="#111" stroke-width="1.4"/>
<rect x="331.60" y="257.10" width="9.50" height="40.20" fill="#177672" stroke="#111" stroke-width="1.4"/>
<line x1="330.70" y1="297.30" x2="330.70" y2="302.10" stroke="#222" stroke-width="1.1" />
<text transform="translate(334.30,308.9) rotate(-90)" font-size="12.1" text-anchor="end" fill="#222">W30G</text>
<rect x="349.25" y="266.20" width="9.50" height="31.10" fill="#a9a9a9" stroke="#111" stroke-width="1.4"/>
<rect x="360.75" y="253.60" width="9.50" height="43.70" fill="#177672" stroke="#111" stroke-width="1.4"/>
<line x1="359.85" y1="297.30" x2="359.85" y2="302.10" stroke="#222" stroke-width="1.1" />
<text transform="translate(363.45,308.9) rotate(-90)" font-size="12.1" text-anchor="end" fill="#222">I94L</text>
<rect x="378.40" y="270.00" width="9.50" height="27.30" fill="#a9a9a9" stroke="#111" stroke-width="1.4"/>
<rect x="389.90" y="266.40" width="9.50" height="30.90" fill="#177672" stroke="#111" stroke-width="1.4"/>
<line x1="389.00" y1="297.30" x2="389.00" y2="302.10" stroke="#222" stroke-width="1.1" />
<text transform="translate(392.60,308.9) rotate(-90)" font-size="12.1" text-anchor="end" fill="#222">R98P</text>
<rect x="407.55" y="253.20" width="9.50" height="44.10" fill="#a9a9a9" stroke="#111" stroke-width="1.4"/>
<rect x="419.05" y="247.00" width="9.50" height="50.30" fill="#177672" stroke="#111" stroke-width="1.4"/>
<line x1="418.15" y1="297.30" x2="418.15" y2="302.10" stroke="#222" stroke-width="1.1" />
<text transform="translate(421.75,308.9) rotate(-90)" font-size="12.1" text-anchor="end" fill="#222">F153S</text>
<line x1="91.10" y1="269.50" x2="91.10" y2="288.10" stroke="#111" stroke-width="1.8" />
<line x1="88.90" y1="269.50" x2="93.30" y2="269.50" stroke="#111" stroke-width="1.8" />
<line x1="88.90" y1="288.10" x2="93.30" y2="288.10" stroke="#111" stroke-width="1.8" />
<line x1="103.20" y1="257.40" x2="103.20" y2="293.00" stroke="#111" stroke-width="1.8" />
<line x1="101.00" y1="257.40" x2="105.40" y2="257.40" stroke="#111" stroke-width="1.8" />
<line x1="101.00" y1="293.00" x2="105.40" y2="293.00" stroke="#111" stroke-width="1.8" />
<line x1="132.20" y1="243.60" x2="132.20" y2="262.40" stroke="#111" stroke-width="1.8" />
<line x1="130.00" y1="243.60" x2="134.40" y2="243.60" stroke="#111" stroke-width="1.8" />
<line x1="130.00" y1="262.40" x2="134.40" y2="262.40" stroke="#111" stroke-width="1.8" />
<line x1="161.60" y1="254.00" x2="161.60" y2="272.20" stroke="#111" stroke-width="1.8" />
<line x1="159.40" y1="254.00" x2="163.80" y2="254.00" stroke="#111" stroke-width="1.8" />
<line x1="159.40" y1="272.20" x2="163.80" y2="272.20" stroke="#111" stroke-width="1.8" />
<line x1="179.00" y1="226.30" x2="179.00" y2="244.90" stroke="#111" stroke-width="1.8" />
<line x1="176.80" y1="226.30" x2="181.20" y2="226.30" stroke="#111" stroke-width="1.8" />
<line x1="176.80" y1="244.90" x2="181.20" y2="244.90" stroke="#111" stroke-width="1.8" />
<line x1="208.30" y1="234.60" x2="208.30" y2="241.90" stroke="#111" stroke-width="1.8" />
<line x1="206.10" y1="234.60" x2="210.50" y2="234.60" stroke="#111" stroke-width="1.8" />
<line x1="206.10" y1="241.90" x2="210.50" y2="241.90" stroke="#111" stroke-width="1.8" />
<line x1="237.50" y1="236.30" x2="237.50" y2="251.50" stroke="#111" stroke-width="1.8" />
<line x1="235.30" y1="236.30" x2="239.70" y2="236.30" stroke="#111" stroke-width="1.8" />
<line x1="235.30" y1="251.50" x2="239.70" y2="251.50" stroke="#111" stroke-width="1.8" />
<line x1="249.10" y1="235.80" x2="249.10" y2="241.60" stroke="#111" stroke-width="1.8" />
<line x1="246.90" y1="235.80" x2="251.30" y2="235.80" stroke="#111" stroke-width="1.8" />
<line x1="246.90" y1="241.60" x2="251.30" y2="241.60" stroke="#111" stroke-width="1.8" />
<line x1="266.80" y1="186.30" x2="266.80" y2="203.20" stroke="#111" stroke-width="1.8" />
<line x1="264.60" y1="186.30" x2="269.00" y2="186.30" stroke="#111" stroke-width="1.8" />
<line x1="264.60" y1="203.20" x2="269.00" y2="203.20" stroke="#111" stroke-width="1.8" />
<line x1="277.60" y1="220.10" x2="277.60" y2="236.60" stroke="#111" stroke-width="1.8" />
<line x1="275.40" y1="220.10" x2="279.80" y2="220.10" stroke="#111" stroke-width="1.8" />
<line x1="275.40" y1="236.60" x2="279.80" y2="236.60" stroke="#111" stroke-width="1.8" />
<line x1="295.80" y1="239.00" x2="295.80" y2="259.80" stroke="#111" stroke-width="1.8" />
<line x1="293.60" y1="239.00" x2="298.00" y2="239.00" stroke="#111" stroke-width="1.8" />
<line x1="293.60" y1="259.80" x2="298.00" y2="259.80" stroke="#111" stroke-width="1.8" />
<line x1="307.70" y1="243.20" x2="307.70" y2="262.30" stroke="#111" stroke-width="1.8" />
<line x1="305.50" y1="243.20" x2="309.90" y2="243.20" stroke="#111" stroke-width="1.8" />
<line x1="305.50" y1="262.30" x2="309.90" y2="262.30" stroke="#111" stroke-width="1.8" />
<line x1="324.80" y1="251.90" x2="324.80" y2="262.90" stroke="#111" stroke-width="1.8" />
<line x1="322.60" y1="251.90" x2="327.00" y2="251.90" stroke="#111" stroke-width="1.8" />
<line x1="322.60" y1="262.90" x2="327.00" y2="262.90" stroke="#111" stroke-width="1.8" />
<line x1="336.40" y1="252.90" x2="336.40" y2="264.90" stroke="#111" stroke-width="1.8" />
<line x1="334.20" y1="252.90" x2="338.60" y2="252.90" stroke="#111" stroke-width="1.8" />
<line x1="334.20" y1="264.90" x2="338.60" y2="264.90" stroke="#111" stroke-width="1.8" />
<line x1="354.10" y1="259.60" x2="354.10" y2="278.50" stroke="#111" stroke-width="1.8" />
<line x1="351.90" y1="259.60" x2="356.30" y2="259.60" stroke="#111" stroke-width="1.8" />
<line x1="351.90" y1="278.50" x2="356.30" y2="278.50" stroke="#111" stroke-width="1.8" />
<line x1="394.90" y1="260.20" x2="394.90" y2="278.90" stroke="#111" stroke-width="1.8" />
<line x1="392.70" y1="260.20" x2="397.10" y2="260.20" stroke="#111" stroke-width="1.8" />
<line x1="392.70" y1="278.90" x2="397.10" y2="278.90" stroke="#111" stroke-width="1.8" />
<line x1="424.20" y1="240.30" x2="424.20" y2="260.20" stroke="#111" stroke-width="1.8" />
<line x1="422.00" y1="240.30" x2="426.40" y2="240.30" stroke="#111" stroke-width="1.8" />
<line x1="422.00" y1="260.20" x2="426.40" y2="260.20" stroke="#111" stroke-width="1.8" />
<circle cx="89.30" cy="269.50" r="1.9" fill="#111" stroke="none" stroke-width="0" opacity="0.9"/>
<circle cx="93.00" cy="269.50" r="1.9" fill="#111" stroke="none" stroke-width="0" opacity="0.9"/>
<circle cx="89.50" cy="287.00" r="1.9" fill="#111" stroke="none" stroke-width="0" opacity="0.9"/>
<circle cx="92.50" cy="286.00" r="1.9" fill="#111" stroke="none" stroke-width="0" opacity="0.9"/>
<circle cx="91.00" cy="284.00" r="1.9" fill="#111" stroke="none" stroke-width="0" opacity="0.9"/>
<circle cx="101.60" cy="254.10" r="1.9" fill="#111" stroke="none" stroke-width="0" opacity="0.9"/>
<circle cx="105.20" cy="254.10" r="1.9" fill="#b4b4b4" stroke="#7a7a7a" stroke-width="0.6" opacity="0.95"/>
<circle cx="103.00" cy="288.00" r="1.9" fill="#111" stroke="none" stroke-width="0" opacity="0.9"/>
<circle cx="103.50" cy="291.00" r="1.9" fill="#111" stroke="none" stroke-width="0" opacity="0.9"/>
<circle cx="119.00" cy="252.60" r="1.9" fill="#111" stroke="none" stroke-width="0" opacity="0.9"/>
<circle cx="121.50" cy="252.60" r="1.9" fill="#111" stroke="none" stroke-width="0" opacity="0.9"/>
<circle cx="124.00" cy="252.60" r="1.9" fill="#111" stroke="none" stroke-width="0" opacity="0.9"/>
<circle cx="133.00" cy="237.40" r="1.9" fill="#b4b4b4" stroke="#7a7a7a" stroke-width="0.6" opacity="0.95"/>
<circle cx="132.20" cy="250.00" r="1.9" fill="#111" stroke="none" stroke-width="0" opacity="0.9"/>
<circle cx="131.50" cy="258.00" r="1.9" fill="#111" stroke="none" stroke-width="0" opacity="0.9"/>
<circle cx="148.00" cy="269.60" r="1.9" fill="#111" stroke="none" stroke-width="0" opacity="0.9"/>
<circle cx="151.50" cy="269.60" r="1.9" fill="#111" stroke="none" stroke-width="0" opacity="0.9"/>
<circle cx="159.00" cy="254.00" r="1.9" fill="#b4b4b4" stroke="#7a7a7a" stroke-width="0.6" opacity="0.95"/>
<circle cx="164.00" cy="254.00" r="1.9" fill="#b4b4b4" stroke="#7a7a7a" stroke-width="0.6" opacity="0.95"/>
<circle cx="161.60" cy="262.00" r="1.9" fill="#111" stroke="none" stroke-width="0" opacity="0.9"/>
<circle cx="161.00" cy="270.00" r="1.9" fill="#111" stroke="none" stroke-width="0" opacity="0.9"/>
<circle cx="177.80" cy="219.60" r="1.9" fill="#b4b4b4" stroke="#7a7a7a" stroke-width="0.6" opacity="0.95"/>
<circle cx="179.00" cy="234.00" r="1.9" fill="#111" stroke="none" stroke-width="0" opacity="0.9"/>
<circle cx="178.00" cy="238.00" r="1.9" fill="#111" stroke="none" stroke-width="0" opacity="0.9"/>
<circle cx="189.00" cy="236.60" r="1.9" fill="#111" stroke="none" stroke-width="0" opacity="0.9"/>
<circle cx="192.00" cy="236.60" r="1.9" fill="#111" stroke="none" stroke-width="0" opacity="0.9"/>
<circle cx="206.00" cy="235.00" r="1.9" fill="#111" stroke="none" stroke-width="0" opacity="0.9"/>
<circle cx="209.00" cy="236.00" r="1.9" fill="#111" stroke="none" stroke-width="0" opacity="0.9"/>
<circle cx="209.90" cy="253.20" r="1.9" fill="#555" stroke="none" stroke-width="0" opacity="0.9"/>
<circle cx="218.50" cy="253.60" r="1.9" fill="#111" stroke="none" stroke-width="0" opacity="0.9"/>
<circle cx="222.00" cy="253.60" r="1.9" fill="#111" stroke="none" stroke-width="0" opacity="0.9"/>
<circle cx="237.50" cy="235.00" r="1.9" fill="#111" stroke="none" stroke-width="0" opacity="0.9"/>
<circle cx="236.00" cy="253.50" r="1.9" fill="#555" stroke="none" stroke-width="0" opacity="0.9"/>
<circle cx="249.50" cy="235.50" r="1.9" fill="#111" stroke="none" stroke-width="0" opacity="0.9"/>
<circle cx="249.50" cy="254.50" r="1.9" fill="#555" stroke="none" stroke-width="0" opacity="0.9"/>
<circle cx="264.00" cy="185.80" r="1.9" fill="#111" stroke="none" stroke-width="0" opacity="0.9"/>
<circle cx="266.80" cy="185.50" r="1.9" fill="#111" stroke="none" stroke-width="0" opacity="0.9"/>
<circle cx="269.50" cy="185.80" r="1.9" fill="#111" stroke="none" stroke-width="0" opacity="0.9"/>
<circle cx="268.00" cy="219.80" r="1.9" fill="#555" stroke="none" stroke-width="0" opacity="0.9"/>
<circle cx="266.80" cy="201.00" r="1.9" fill="#111" stroke="none" stroke-width="0" opacity="0.9"/>
<circle cx="275.00" cy="220.20" r="1.9" fill="#111" stroke="none" stroke-width="0" opacity="0.9"/>
<circle cx="280.00" cy="220.20" r="1.9" fill="#111" stroke="none" stroke-width="0" opacity="0.9"/>
<circle cx="277.00" cy="236.00" r="1.9" fill="#111" stroke="none" stroke-width="0" opacity="0.9"/>
<circle cx="294.00" cy="236.20" r="1.9" fill="#b4b4b4" stroke="#7a7a7a" stroke-width="0.6" opacity="0.95"/>
<circle cx="298.00" cy="236.20" r="1.9" fill="#b4b4b4" stroke="#7a7a7a" stroke-width="0.6" opacity="0.95"/>
<circle cx="294.50" cy="253.00" r="1.9" fill="#111" stroke="none" stroke-width="0" opacity="0.9"/>
<circle cx="296.50" cy="250.00" r="1.9" fill="#111" stroke="none" stroke-width="0" opacity="0.9"/>
<circle cx="309.80" cy="237.00" r="1.9" fill="#b4b4b4" stroke="#7a7a7a" stroke-width="0.6" opacity="0.95"/>
<circle cx="307.00" cy="250.00" r="1.9" fill="#111" stroke="none" stroke-width="0" opacity="0.9"/>
<circle cx="324.00" cy="251.50" r="1.9" fill="#111" stroke="none" stroke-width="0" opacity="0.9"/>
<circle cx="324.00" cy="270.20" r="1.9" fill="#555" stroke="none" stroke-width="0" opacity="0.9"/>
<circle cx="334.00" cy="252.50" r="1.9" fill="#b4b4b4" stroke="#7a7a7a" stroke-width="0.6" opacity="0.95"/>
<circle cx="338.00" cy="252.50" r="1.9" fill="#111" stroke="none" stroke-width="0" opacity="0.9"/>
<circle cx="334.60" cy="270.50" r="1.9" fill="#555" stroke="none" stroke-width="0" opacity="0.9"/>
<circle cx="354.80" cy="253.30" r="1.9" fill="#b4b4b4" stroke="#7a7a7a" stroke-width="0.6" opacity="0.95"/>
<circle cx="354.00" cy="268.00" r="1.9" fill="#111" stroke="none" stroke-width="0" opacity="0.9"/>
<circle cx="353.00" cy="272.00" r="1.9" fill="#111" stroke="none" stroke-width="0" opacity="0.9"/>
<circle cx="364.00" cy="253.60" r="1.9" fill="#111" stroke="none" stroke-width="0" opacity="0.9"/>
<circle cx="367.50" cy="253.60" r="1.9" fill="#111" stroke="none" stroke-width="0" opacity="0.9"/>
<circle cx="381.00" cy="270.00" r="1.9" fill="#111" stroke="none" stroke-width="0" opacity="0.9"/>
<circle cx="385.00" cy="270.00" r="1.9" fill="#111" stroke="none" stroke-width="0" opacity="0.9"/>
<circle cx="394.90" cy="254.00" r="1.9" fill="#b4b4b4" stroke="#7a7a7a" stroke-width="0.6" opacity="0.95"/>
<circle cx="394.50" cy="268.00" r="1.9" fill="#111" stroke="none" stroke-width="0" opacity="0.9"/>
<circle cx="410.00" cy="253.20" r="1.9" fill="#111" stroke="none" stroke-width="0" opacity="0.9"/>
<circle cx="414.00" cy="253.20" r="1.9" fill="#111" stroke="none" stroke-width="0" opacity="0.9"/>
<circle cx="422.50" cy="237.30" r="1.9" fill="#b4b4b4" stroke="#7a7a7a" stroke-width="0.6" opacity="0.95"/>
<circle cx="426.00" cy="237.30" r="1.9" fill="#b4b4b4" stroke="#7a7a7a" stroke-width="0.6" opacity="0.95"/>
<circle cx="424.00" cy="248.00" r="1.9" fill="#111" stroke="none" stroke-width="0" opacity="0.9"/>
<circle cx="424.50" cy="252.00" r="1.9" fill="#111" stroke="none" stroke-width="0" opacity="0.9"/>
<text x="258.20" y="359.60" font-size="14.8" text-anchor="middle" font-weight="normal" font-style="normal" fill="#222" stroke="#222" stroke-width="0.2" >DHFR Variants</text>
<line x1="271.30" y1="166.90" x2="271.30" y2="172.70" stroke="#111" stroke-width="1.5" />
<line x1="268.79" y1="168.35" x2="273.81" y2="171.25" stroke="#111" stroke-width="1.5" />
<line x1="268.79" y1="171.25" x2="273.81" y2="168.35" stroke="#111" stroke-width="1.5" />
<line x1="279.40" y1="166.90" x2="279.40" y2="172.70" stroke="#111" stroke-width="1.5" />
<line x1="276.89" y1="168.35" x2="281.91" y2="171.25" stroke="#111" stroke-width="1.5" />
<line x1="276.89" y1="171.25" x2="281.91" y2="168.35" stroke="#111" stroke-width="1.5" />
<line x1="287.50" y1="166.90" x2="287.50" y2="172.70" stroke="#111" stroke-width="1.5" />
<line x1="284.99" y1="168.35" x2="290.01" y2="171.25" stroke="#111" stroke-width="1.5" />
<line x1="284.99" y1="171.25" x2="290.01" y2="168.35" stroke="#111" stroke-width="1.5" />
<rect x="291.60" y="189.20" width="24.00" height="8.30" fill="#a9a9a9" stroke="#111" stroke-width="1.5"/>
<rect x="374.50" y="189.20" width="24.40" height="8.30" fill="#177672" stroke="#111" stroke-width="1.5"/>
<text x="326.30" y="197.60" font-size="11.3" text-anchor="start" font-weight="normal" font-style="normal" fill="#262626" stroke="#262626" stroke-width="0.2" >TMP</text>
<text x="408.70" y="197.60" font-size="12.0" text-anchor="start" font-weight="normal" font-style="normal" fill="#262626" stroke="#262626" stroke-width="0.2" >4′-DTMP</text>
<g transform="translate(26.40,240.70) rotate(-90) scale(1.07,1)" fill="#262626">
<text x="-40.50" y="0" font-size="14.8">IC</text>
<text transform="translate(-25.40,1.80) scale(1.124,1)" x="0" y="0" font-size="8.4">95</text>
<text x="-14.90" y="0" font-size="14.8"> (μg/mL)</text>
</g>
<text x="467.80" y="174.20" font-size="11.8" text-anchor="start" font-weight="bold" font-style="normal" fill="#000" stroke="#000" stroke-width="0.15" >e</text>
<line x1="535.70" y1="193.50" x2="535.70" y2="278.30" stroke="#222" stroke-width="1.1" />
<line x1="535.20" y1="277.80" x2="717.70" y2="277.80" stroke="#222" stroke-width="1.1" />
<line x1="531.10" y1="193.50" x2="535.70" y2="193.50" stroke="#222" stroke-width="1.1" />
<text x="520.20" y="200.50" font-size="12.6" text-anchor="end" font-weight="normal" font-style="normal" fill="#262626" stroke="#262626" stroke-width="0.2" >10</text>
<text x="521.00" y="191.50" font-size="9.4" text-anchor="start" font-weight="normal" font-style="normal" fill="#262626" stroke="#262626" stroke-width="0.2" >3</text>
<line x1="531.10" y1="235.70" x2="535.70" y2="235.70" stroke="#222" stroke-width="1.1" />
<text x="520.20" y="242.70" font-size="12.6" text-anchor="end" font-weight="normal" font-style="normal" fill="#262626" stroke="#262626" stroke-width="0.2" >10</text>
<text x="521.00" y="233.70" font-size="9.4" text-anchor="start" font-weight="normal" font-style="normal" fill="#262626" stroke="#262626" stroke-width="0.2" >1</text>
<line x1="531.10" y1="277.80" x2="535.70" y2="277.80" stroke="#222" stroke-width="1.1" />
<text x="515.60" y="284.80" font-size="12.6" text-anchor="end" font-weight="normal" font-style="normal" fill="#262626" stroke="#262626" stroke-width="0.2" >10</text>
<text x="516.40" y="275.80" font-size="9.4" text-anchor="start" font-weight="normal" font-style="normal" fill="#262626" stroke="#262626" stroke-width="0.2" >−1</text>
<rect x="546.00" y="264.10" width="10.50" height="13.70" fill="#a9a9a9" stroke="#111" stroke-width="1.5"/>
<rect x="559.50" y="255.30" width="11.10" height="22.50" fill="#177672" stroke="#111" stroke-width="1.5"/>
<line x1="558.00" y1="277.80" x2="558.00" y2="282.40" stroke="#222" stroke-width="1.1" />
<rect x="580.50" y="264.10" width="10.50" height="13.70" fill="#a9a9a9" stroke="#111" stroke-width="1.5"/>
<rect x="594.00" y="255.30" width="11.10" height="22.50" fill="#177672" stroke="#111" stroke-width="1.5"/>
<line x1="592.50" y1="277.80" x2="592.50" y2="282.40" stroke="#222" stroke-width="1.1" />
<rect x="615.10" y="224.50" width="10.50" height="53.30" fill="#a9a9a9" stroke="#111" stroke-width="1.5"/>
<rect x="628.60" y="218.50" width="11.10" height="59.30" fill="#177672" stroke="#111" stroke-width="1.5"/>
<line x1="627.10" y1="277.80" x2="627.10" y2="282.40" stroke="#222" stroke-width="1.1" />
<rect x="649.10" y="214.90" width="10.50" height="62.90" fill="#a9a9a9" stroke="#111" stroke-width="1.5"/>
<rect x="662.60" y="214.90" width="11.10" height="62.90" fill="#177672" stroke="#111" stroke-width="1.5"/>
<line x1="661.10" y1="277.80" x2="661.10" y2="282.40" stroke="#222" stroke-width="1.1" />
<rect x="683.60" y="237.00" width="10.50" height="40.80" fill="#a9a9a9" stroke="#111" stroke-width="1.5"/>
<rect x="697.10" y="227.30" width="11.10" height="50.50" fill="#177672" stroke="#111" stroke-width="1.5"/>
<line x1="695.60" y1="277.80" x2="695.60" y2="282.40" stroke="#222" stroke-width="1.1" />
<line x1="634.20" y1="214.40" x2="634.20" y2="229.20" stroke="#111" stroke-width="1.8" />
<line x1="632.00" y1="214.40" x2="636.40" y2="214.40" stroke="#111" stroke-width="1.8" />
<line x1="632.00" y1="229.20" x2="636.40" y2="229.20" stroke="#111" stroke-width="1.8" />
<line x1="689.10" y1="234.30" x2="689.10" y2="242.10" stroke="#111" stroke-width="1.8" />
<line x1="686.90" y1="234.30" x2="691.30" y2="234.30" stroke="#111" stroke-width="1.8" />
<line x1="686.90" y1="242.10" x2="691.30" y2="242.10" stroke="#111" stroke-width="1.8" />
<line x1="703.20" y1="225.00" x2="703.20" y2="232.70" stroke="#111" stroke-width="1.8" />
<line x1="701.00" y1="225.00" x2="705.40" y2="225.00" stroke="#111" stroke-width="1.8" />
<line x1="701.00" y1="232.70" x2="705.40" y2="232.70" stroke="#111" stroke-width="1.8" />
<circle cx="549.00" cy="264.30" r="1.9" fill="#111" stroke="none" stroke-width="0" opacity="0.9"/>
<circle cx="553.00" cy="264.30" r="1.9" fill="#111" stroke="none" stroke-width="0" opacity="0.9"/>
<circle cx="563.00" cy="255.00" r="1.9" fill="#111" stroke="none" stroke-width="0" opacity="0.9"/>
<circle cx="567.00" cy="255.00" r="1.9" fill="#111" stroke="none" stroke-width="0" opacity="0.9"/>
<circle cx="583.50" cy="264.30" r="1.9" fill="#111" stroke="none" stroke-width="0" opacity="0.9"/>
<circle cx="587.50" cy="264.30" r="1.9" fill="#111" stroke="none" stroke-width="0" opacity="0.9"/>
<circle cx="597.50" cy="255.00" r="1.9" fill="#111" stroke="none" stroke-width="0" opacity="0.9"/>
<circle cx="601.50" cy="255.00" r="1.9" fill="#111" stroke="none" stroke-width="0" opacity="0.9"/>
<circle cx="618.00" cy="225.00" r="1.9" fill="#111" stroke="none" stroke-width="0" opacity="0.9"/>
<circle cx="622.00" cy="225.00" r="1.9" fill="#111" stroke="none" stroke-width="0" opacity="0.9"/>
<circle cx="634.20" cy="214.40" r="1.9" fill="#111" stroke="none" stroke-width="0" opacity="0.9"/>
<circle cx="634.20" cy="245.30" r="1.9" fill="#111" stroke="none" stroke-width="0" opacity="0.9"/>
<circle cx="652.00" cy="215.00" r="1.9" fill="#111" stroke="none" stroke-width="0" opacity="0.9"/>
<circle cx="656.00" cy="215.00" r="1.9" fill="#111" stroke="none" stroke-width="0" opacity="0.9"/>
<circle cx="666.00" cy="215.00" r="1.9" fill="#111" stroke="none" stroke-width="0" opacity="0.9"/>
<circle cx="670.00" cy="215.00" r="1.9" fill="#111" stroke="none" stroke-width="0" opacity="0.9"/>
<circle cx="686.00" cy="234.00" r="1.9" fill="#b4b4b4" stroke="#7a7a7a" stroke-width="0.6" opacity="0.95"/>
<circle cx="689.00" cy="234.00" r="1.9" fill="#111" stroke="none" stroke-width="0" opacity="0.9"/>
<circle cx="692.10" cy="244.80" r="1.9" fill="#555" stroke="none" stroke-width="0" opacity="0.9"/>
<circle cx="702.00" cy="225.00" r="1.9" fill="#111" stroke="none" stroke-width="0" opacity="0.9"/>
<circle cx="705.00" cy="225.50" r="1.9" fill="#111" stroke="none" stroke-width="0" opacity="0.9"/>
<circle cx="703.20" cy="235.40" r="1.9" fill="#111" stroke="none" stroke-width="0" opacity="0.9"/>
<rect x="546.40" y="199.00" width="20.50" height="7.10" fill="#a9a9a9" stroke="#222" stroke-width="1.3"/>
<rect x="546.40" y="213.10" width="20.50" height="7.20" fill="#177672" stroke="#222" stroke-width="1.3"/>
<text x="575.60" y="205.90" font-size="9.7" text-anchor="start" font-weight="normal" font-style="normal" fill="#262626" stroke="#262626" stroke-width="0.2" >TMP</text>
<text x="575.20" y="220.10" font-size="10.0" text-anchor="start" font-weight="normal" font-style="normal" fill="#262626" stroke="#262626" stroke-width="0.2" >4′-DTMP</text>
<g transform="translate(492.20,234.80) rotate(-90) scale(1.07,1)" fill="#262626">
<text x="-38.38" y="0" font-size="14.8">IC</text>
<text transform="translate(-23.28,1.80) scale(1.199,1)" x="0" y="0" font-size="8.4">95</text>
<text x="-12.08" y="0" font-size="14.8"> (μg/ml)</text>
</g>
<text transform="translate(554.80,0) rotate(-90)" font-size="11.3" font-style="italic" fill="#222" text-anchor="middle"></text>
<text transform="translate(589.30,0) rotate(-90)" font-size="11.3" font-style="italic" fill="#222" text-anchor="middle"></text>
<text transform="translate(623.90,0) rotate(-90)" font-size="11.3" font-style="italic" fill="#222" text-anchor="middle"></text>
<text transform="translate(657.90,0) rotate(-90)" font-size="11.3" font-style="italic" fill="#222" text-anchor="middle"></text>
<text transform="translate(692.40,0) rotate(-90)" font-size="11.3" font-style="italic" fill="#222" text-anchor="middle"></text>
<text transform="translate(555.10,309.74) rotate(-90)" font-size="11.7" font-style="italic" fill="#222" text-anchor="middle">E. coli</text>
<text transform="translate(569.40,309.74) rotate(-90)" font-size="11.7" font-style="italic" fill="#222" text-anchor="middle">MG1655</text>
<text transform="translate(589.60,325.02) rotate(-90)" font-size="11.7" font-style="italic" fill="#222" text-anchor="middle">E. coli</text>
<text transform="translate(603.90,325.02) rotate(-90)" font-size="11.7" font-style="italic" fill="#222" text-anchor="middle">Clinical Isolate</text>
<text transform="translate(624.20,326.65) rotate(-90)" font-size="11.7" font-style="italic" fill="#222" text-anchor="middle">K. pneumoniae</text>
<text transform="translate(638.50,326.65) rotate(-90)" font-size="11.7" font-style="italic" fill="#222" text-anchor="middle">F45153</text>
<text transform="translate(658.20,322.64) rotate(-90)" font-size="11.7" font-style="italic" fill="#222" text-anchor="middle">P. aeruginosa</text>
<text transform="translate(672.50,322.64) rotate(-90)" font-size="11.7" font-style="italic" fill="#222" text-anchor="middle">PAO1</text>
<text transform="translate(692.70,312.34) rotate(-90)" font-size="11.7" font-style="italic" fill="#222" text-anchor="middle">S. aureus</text>
<text transform="translate(707.00,312.34) rotate(-90)" font-size="11.7" font-style="italic" fill="#222" text-anchor="middle">RN4220</text>
</svg></body></html>
